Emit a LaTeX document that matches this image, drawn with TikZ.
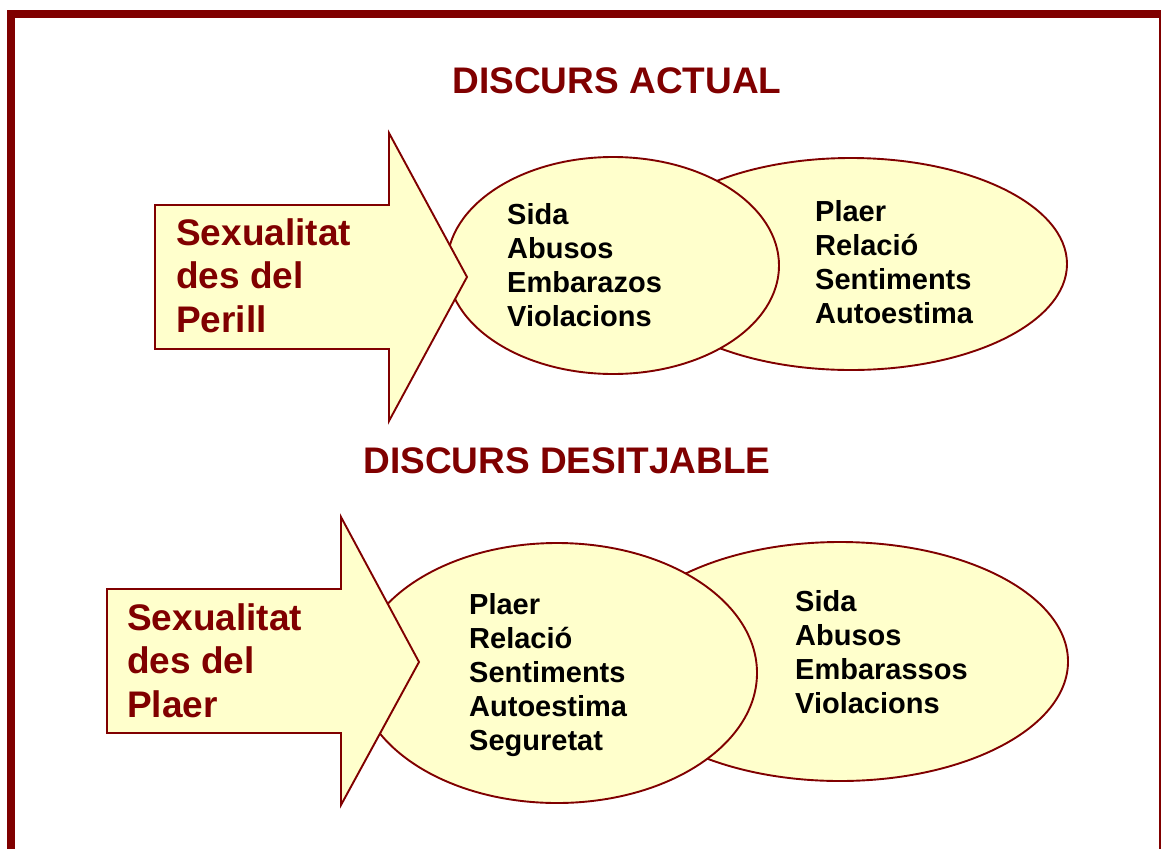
\documentclass[tikz,border=0pt]{standalone}
\usepackage{fontspec}
\setmainfont{Liberation Sans}
\definecolor{granat}{HTML}{800000}
\definecolor{crema}{HTML}{FFFFCC}

\begin{document}
\begin{tikzpicture}[x=1pt,y=-1pt,
    forma/.style={draw=granat,fill=crema,line width=1.9pt,line join=miter},
    titol/.style={text=granat,font=\bfseries\fontsize{37}{44}\selectfont,inner sep=0pt},
    fletxa/.style={text=granat,font=\bfseries\fontsize{37}{43.5}\selectfont,align=left,anchor=west,inner sep=0pt},
    llista/.style={text=black,font=\bfseries\fontsize{29}{34}\selectfont,align=left,anchor=west,inner sep=0pt}]
        \useasboundingbox(0,0)rectangle(1161,849);
        \fill[granat](7,9.5)rectangle(1161,17.5);
        \fill[granat](7,9.5)rectangle(15,849);
        \fill[granat](1158.6,9.5)rectangle(1161,849);

        \node[titol](titolactual)at(617,81){DISCURS ACTUAL};
        \draw[forma](851,264)ellipse[x radius=216,y radius=106];
        \draw[forma](613,265.5)ellipse[x radius=166,y radius=108.5];
        \draw[forma](155,205)--(389,205)--(389,133)--(467,277)--(389,421)--(389,349)--(155,349)--cycle;
        \node[fletxa](perill)at(176,275.5){Sexualitat\\des del\\Perill};
        \node[llista](riscos)at(507,265){Sida\\Abusos\\Embarazos\\Violacions};
        \node[llista](valors)at(815,262.5){Plaer\\Relació\\Sentiments\\Autoestima};

        \node[titol](titoldesitjable)at(567,461){DISCURS DESITJABLE};
        \draw[forma](840,661.5)ellipse[x radius=228,y radius=119.5];
        \draw[forma](557,673)ellipse[x radius=200,y radius=130];
        \draw[forma](107,589)--(341,589)--(341,517)--(419,662)--(341,805)--(341,733)--(107,733)--cycle;
        \node[fletxa](plaer)at(127,660.5){Sexualitat\\des del\\Plaer};
        \node[llista](benestar)at(469,675.5){Plaer\\Relació\\Sentiments\\Autoestima\\Seguretat};
        \node[llista](perills)at(795,652){Sida\\Abusos\\Embarassos\\Violacions};
    \end{tikzpicture}
\end{document}
